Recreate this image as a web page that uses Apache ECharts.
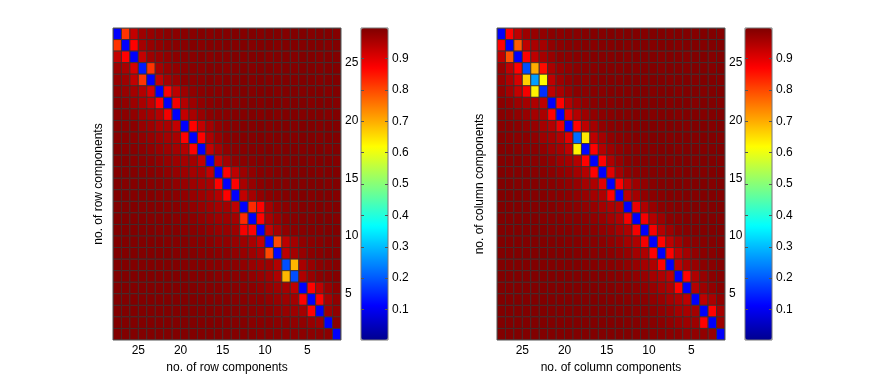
<!DOCTYPE html>
<html><head><meta charset="utf-8">
<script src="https://cdn.jsdelivr.net/npm/echarts@6/dist/echarts.min.js"></script>
<style>html,body{margin:0;padding:0;background:#fff}#c{width:872px;height:382px}</style>
</head><body><div id="c"></div>
<script>
const FONT = "'Liberation Sans', Arial, Helvetica, sans-serif";
const xTicks = [5, 10, 15, 20, 25];
const yTicks = [5, 10, 15, 20, 25];
const colorTicks = [0.1, 0.2, 0.3, 0.4, 0.5, 0.6, 0.7, 0.8, 0.9];
const componentRange = [1, 28];
const colorRange = [0.003, 0.997];
const leftXName = 'no. of row components';
const leftYName = 'no. of row components';
const rightXName = 'no. of column components';
const rightYName = 'no. of column components';

// rows from top (27) to bottom (1); columns from left (27) to right (1)
const leftMatrix = [
[0.11,0.82,0.93,0.966,0.972,0.978,0.984,0.984,0.988, 0.988,0.992,0.988,0.992,0.992,0.995,0.992,0.995,0.992, 0.995,0.995,0.992,0.995,0.995,0.992,0.995,0.995,0.992],
[0.82,0.11,0.87,0.96,0.972,0.978,0.984,0.988,0.988, 0.992,0.988,0.992,0.992,0.995,0.992,0.995,0.992,0.995, 0.995,0.992,0.995,0.995,0.992,0.995,0.995,0.992,0.995],
[0.93,0.87,0.11,0.93,0.966,0.972,0.978,0.984,0.988, 0.988,0.992,0.988,0.992,0.992,0.995,0.992,0.995,0.995, 0.992,0.995,0.995,0.992,0.995,0.995,0.992,0.995,0.995],
[0.966,0.955,0.91,0.14,0.82,0.96,0.972,0.978,0.984, 0.988,0.988,0.992,0.992,0.988,0.992,0.995,0.992,0.995, 0.995,0.992,0.995,0.992,0.995,0.995,0.992,0.995,0.995],
[0.972,0.966,0.93,0.82,0.11,0.93,0.96,0.972,0.984, 0.984,0.988,0.992,0.988,0.992,0.992,0.995,0.992,0.995, 0.992,0.995,0.995,0.992,0.995,0.995,0.992,0.995,0.995],
[0.978,0.972,0.96,0.945,0.91,0.11,0.87,0.935,0.966, 0.978,0.984,0.988,0.988,0.992,0.992,0.995,0.992,0.995, 0.995,0.992,0.995,0.995,0.992,0.995,0.995,0.992,0.995],
[0.984,0.978,0.966,0.955,0.935,0.87,0.11,0.88,0.945, 0.966,0.978,0.984,0.988,0.992,0.988,0.992,0.995,0.992, 0.995,0.995,0.992,0.995,0.995,0.992,0.995,0.995,0.992],
[0.984,0.984,0.978,0.966,0.96,0.945,0.88,0.11,0.93, 0.955,0.972,0.984,0.988,0.988,0.992,0.992,0.995,0.992, 0.995,0.992,0.995,0.995,0.992,0.995,0.995,0.992,0.995],
[0.988,0.984,0.984,0.972,0.966,0.955,0.955,0.93,0.11, 0.87,0.93,0.96,0.978,0.984,0.988,0.992,0.992,0.995, 0.992,0.995,0.995,0.992,0.995,0.995,0.992,0.995,0.995],
[0.988,0.988,0.984,0.978,0.972,0.966,0.96,0.955,0.87, 0.11,0.87,0.95,0.972,0.984,0.988,0.992,0.992,0.995, 0.992,0.995,0.995,0.992,0.995,0.995,0.992,0.995,0.995],
[0.992,0.988,0.988,0.984,0.978,0.972,0.966,0.96,0.945, 0.87,0.11,0.93,0.96,0.978,0.984,0.988,0.992,0.992, 0.995,0.992,0.995,0.995,0.992,0.995,0.995,0.992,0.995],
[0.992,0.992,0.988,0.988,0.984,0.978,0.972,0.966,0.96, 0.96,0.93,0.11,0.93,0.96,0.978,0.984,0.988,0.992, 0.992,0.995,0.992,0.995,0.995,0.992,0.995,0.995,0.992],
[0.992,0.992,0.992,0.988,0.988,0.984,0.978,0.972,0.966, 0.96,0.96,0.93,0.11,0.87,0.935,0.966,0.978,0.988, 0.988,0.992,0.995,0.992,0.995,0.995,0.992,0.995,0.995],
[0.995,0.992,0.992,0.992,0.988,0.988,0.984,0.978,0.972, 0.966,0.96,0.955,0.87,0.11,0.87,0.955,0.972,0.984, 0.988,0.992,0.992,0.995,0.992,0.995,0.995,0.992,0.995],
[0.995,0.995,0.992,0.992,0.992,0.988,0.988,0.984,0.978, 0.972,0.966,0.96,0.945,0.87,0.11,0.93,0.96,0.978, 0.984,0.988,0.992,0.992,0.995,0.992,0.995,0.995,0.992],
[0.995,0.995,0.995,0.992,0.992,0.992,0.988,0.988,0.984, 0.978,0.972,0.966,0.96,0.96,0.935,0.11,0.83,0.87, 0.96,0.978,0.984,0.988,0.992,0.992,0.995,0.992,0.995],
[0.995,0.995,0.995,0.995,0.992,0.992,0.992,0.988,0.988, 0.984,0.978,0.972,0.966,0.966,0.96,0.83,0.11,0.87, 0.955,0.972,0.984,0.988,0.992,0.992,0.995,0.995,0.992],
[0.995,0.995,0.995,0.995,0.995,0.992,0.992,0.992,0.988, 0.988,0.984,0.978,0.972,0.972,0.966,0.88,0.87,0.11, 0.93,0.96,0.978,0.984,0.988,0.992,0.992,0.995,0.995],
[0.995,0.995,0.995,0.995,0.995,0.995,0.992,0.992,0.992, 0.988,0.988,0.984,0.978,0.978,0.972,0.966,0.955,0.93, 0.12,0.80,0.935,0.96,0.978,0.984,0.988,0.992,0.992],
[0.995,0.995,0.995,0.995,0.995,0.995,0.995,0.992,0.992, 0.992,0.988,0.988,0.984,0.984,0.978,0.972,0.966,0.955, 0.80,0.12,0.935,0.96,0.972,0.984,0.988,0.992,0.992],
[0.995,0.995,0.995,0.995,0.995,0.995,0.995,0.995,0.992, 0.992,0.992,0.988,0.988,0.984,0.984,0.978,0.972,0.966, 0.966,0.945,0.19,0.69,0.955,0.972,0.984,0.988,0.992],
[0.995,0.995,0.995,0.995,0.995,0.995,0.995,0.995,0.995, 0.992,0.992,0.992,0.988,0.988,0.984,0.984,0.978,0.972, 0.966,0.95,0.69,0.19,0.95,0.972,0.984,0.988,0.992],
[0.995,0.995,0.995,0.995,0.995,0.995,0.995,0.995,0.995, 0.995,0.992,0.992,0.992,0.988,0.988,0.984,0.984,0.978, 0.972,0.966,0.96,0.935,0.11,0.87,0.935,0.972,0.984],
[0.995,0.995,0.995,0.995,0.995,0.995,0.995,0.995,0.995, 0.995,0.995,0.992,0.992,0.992,0.988,0.988,0.984,0.984, 0.978,0.972,0.966,0.96,0.87,0.11,0.87,0.96,0.978],
[0.995,0.995,0.995,0.995,0.995,0.995,0.995,0.995,0.995, 0.995,0.995,0.995,0.992,0.992,0.992,0.988,0.988,0.984, 0.984,0.978,0.972,0.966,0.96,0.87,0.11,0.966,0.978],
[0.995,0.995,0.995,0.995,0.995,0.995,0.995,0.995,0.995, 0.995,0.995,0.995,0.995,0.992,0.992,0.992,0.988,0.988, 0.988,0.984,0.984,0.978,0.978,0.972,0.966,0.11,0.984],
[0.995,0.995,0.995,0.995,0.995,0.995,0.995,0.995,0.995, 0.995,0.995,0.995,0.995,0.995,0.992,0.992,0.992,0.988, 0.988,0.988,0.984,0.984,0.984,0.984,0.984,0.984,0.11]
];

const rightMatrix = [
[0.11,0.87,0.935,0.966,0.972,0.978,0.984,0.984,0.988, 0.988,0.992,0.992,0.992,0.995,0.992,0.995,0.995,0.992, 0.995,0.995,0.992,0.995,0.995,0.992,0.995,0.995,0.992],
[0.87,0.11,0.78,0.935,0.955,0.96,0.978,0.984,0.988, 0.988,0.992,0.988,0.992,0.992,0.995,0.992,0.995,0.995, 0.992,0.995,0.995,0.992,0.995,0.995,0.992,0.995,0.995],
[0.935,0.79,0.11,0.87,0.935,0.96,0.972,0.984,0.984, 0.988,0.988,0.992,0.992,0.992,0.995,0.992,0.995,0.995, 0.995,0.992,0.995,0.995,0.992,0.995,0.995,0.992,0.995],
[0.972,0.935,0.87,0.19,0.70,0.86,0.955,0.972,0.978, 0.984,0.988,0.988,0.992,0.992,0.992,0.995,0.992,0.995, 0.995,0.992,0.995,0.995,0.992,0.995,0.995,0.992,0.995],
[0.972,0.95,0.91,0.665,0.27,0.62,0.935,0.966,0.978, 0.984,0.984,0.988,0.992,0.992,0.992,0.995,0.995,0.992, 0.995,0.995,0.992,0.995,0.995,0.992,0.995,0.995,0.992],
[0.978,0.96,0.93,0.88,0.63,0.16,0.935,0.955,0.972, 0.984,0.984,0.988,0.988,0.992,0.992,0.992,0.995,0.995, 0.992,0.995,0.995,0.992,0.995,0.995,0.992,0.995,0.995],
[0.984,0.978,0.966,0.96,0.95,0.935,0.11,0.87,0.945, 0.966,0.978,0.984,0.988,0.988,0.992,0.992,0.995,0.992, 0.995,0.995,0.992,0.995,0.995,0.992,0.995,0.995,0.992],
[0.988,0.984,0.978,0.972,0.96,0.955,0.87,0.11,0.90, 0.945,0.966,0.978,0.984,0.988,0.992,0.992,0.995,0.995, 0.992,0.995,0.995,0.992,0.995,0.995,0.992,0.995,0.995],
[0.988,0.988,0.984,0.978,0.972,0.96,0.945,0.89,0.11, 0.87,0.935,0.96,0.978,0.984,0.988,0.992,0.992,0.995, 0.995,0.992,0.995,0.995,0.992,0.995,0.995,0.992,0.995],
[0.992,0.988,0.984,0.984,0.978,0.966,0.96,0.945,0.90, 0.22,0.64,0.935,0.96,0.978,0.984,0.988,0.992,0.992, 0.995,0.995,0.992,0.995,0.995,0.992,0.995,0.995,0.992],
[0.992,0.992,0.988,0.984,0.984,0.978,0.966,0.96,0.935, 0.63,0.12,0.87,0.945,0.966,0.978,0.984,0.988,0.992, 0.992,0.995,0.995,0.992,0.995,0.995,0.992,0.995,0.995],
[0.992,0.992,0.992,0.988,0.984,0.984,0.978,0.966,0.96, 0.945,0.87,0.11,0.87,0.95,0.972,0.984,0.988,0.992, 0.992,0.995,0.992,0.995,0.995,0.992,0.995,0.995,0.992],
[0.995,0.992,0.992,0.992,0.988,0.988,0.984,0.978,0.972, 0.96,0.945,0.87,0.11,0.90,0.96,0.978,0.984,0.988, 0.992,0.992,0.995,0.992,0.995,0.995,0.992,0.995,0.995],
[0.995,0.995,0.992,0.992,0.992,0.988,0.988,0.984,0.978, 0.972,0.96,0.95,0.90,0.11,0.87,0.935,0.966,0.978, 0.988,0.992,0.992,0.995,0.992,0.995,0.995,0.992,0.995],
[0.995,0.995,0.995,0.992,0.992,0.992,0.988,0.988,0.984, 0.978,0.972,0.96,0.95,0.87,0.11,0.935,0.96,0.978, 0.984,0.988,0.992,0.992,0.995,0.992,0.995,0.995,0.992],
[0.995,0.995,0.995,0.995,0.992,0.992,0.992,0.988,0.988, 0.984,0.978,0.972,0.96,0.95,0.945,0.11,0.89,0.95, 0.972,0.984,0.988,0.992,0.992,0.995,0.992,0.995,0.995],
[0.995,0.995,0.995,0.995,0.995,0.992,0.992,0.992,0.988, 0.988,0.984,0.978,0.972,0.96,0.95,0.88,0.11,0.88, 0.945,0.966,0.984,0.988,0.992,0.992,0.995,0.995,0.992],
[0.995,0.995,0.995,0.995,0.995,0.995,0.992,0.992,0.992, 0.988,0.988,0.984,0.978,0.972,0.96,0.95,0.88,0.11, 0.88,0.945,0.966,0.984,0.988,0.992,0.992,0.995,0.995],
[0.995,0.995,0.995,0.995,0.995,0.995,0.995,0.995,0.992, 0.992,0.988,0.988,0.984,0.978,0.972,0.96,0.95,0.88, 0.11,0.87,0.935,0.96,0.978,0.984,0.988,0.992,0.992],
[0.995,0.995,0.995,0.995,0.995,0.995,0.995,0.995,0.995, 0.992,0.992,0.988,0.988,0.984,0.978,0.972,0.96,0.95, 0.87,0.11,0.87,0.935,0.96,0.978,0.984,0.988,0.992],
[0.995,0.995,0.995,0.995,0.995,0.995,0.995,0.995,0.995, 0.995,0.992,0.992,0.988,0.988,0.984,0.978,0.972,0.96, 0.95,0.87,0.11,0.935,0.96,0.972,0.984,0.988,0.992],
[0.995,0.995,0.995,0.995,0.995,0.995,0.995,0.995,0.995, 0.995,0.995,0.992,0.992,0.988,0.988,0.984,0.978,0.972, 0.96,0.95,0.935,0.11,0.87,0.95,0.972,0.984,0.988],
[0.995,0.995,0.995,0.995,0.995,0.995,0.995,0.995,0.995, 0.995,0.995,0.995,0.992,0.992,0.988,0.988,0.984,0.978, 0.972,0.96,0.95,0.87,0.11,0.945,0.966,0.978,0.988],
[0.995,0.995,0.995,0.995,0.995,0.995,0.995,0.995,0.995, 0.995,0.995,0.995,0.995,0.992,0.992,0.988,0.988,0.984, 0.978,0.972,0.96,0.95,0.935,0.11,0.935,0.955,0.978],
[0.995,0.995,0.995,0.995,0.995,0.995,0.995,0.995,0.995, 0.995,0.995,0.995,0.995,0.995,0.992,0.992,0.988,0.988, 0.984,0.978,0.972,0.96,0.955,0.96,0.11,0.87,0.96],
[0.995,0.995,0.995,0.995,0.995,0.995,0.995,0.995,0.995, 0.995,0.995,0.995,0.995,0.995,0.995,0.992,0.992,0.988, 0.988,0.984,0.978,0.972,0.966,0.966,0.87,0.11,0.966],
[0.995,0.995,0.995,0.995,0.995,0.995,0.995,0.995,0.995, 0.995,0.995,0.995,0.995,0.995,0.995,0.995,0.992,0.992, 0.988,0.988,0.984,0.984,0.978,0.978,0.978,0.972,0.11]
];

// MATLAB-style jet(64) colormap
function jetColors() {
  const m = 64, n = 16, u = [];
  for (let i = 1; i <= n; i++) u.push(i / n);
  for (let i = 0; i < n - 1; i++) u.push(1);
  for (let i = n; i >= 1; i--) u.push(i / n);
  const R = new Array(m).fill(0), G = new Array(m).fill(0), B = new Array(m).fill(0);
  for (let k = 0; k < u.length; k++) {
    const gi = 8 + k + 1, ri = gi + n, bi = gi - n;
    if (gi >= 1 && gi <= m) G[gi - 1] = u[k];
    if (ri >= 1 && ri <= m) R[ri - 1] = u[k];
    if (bi >= 1 && bi <= m) B[bi - 1] = u[k];
  }
  const h = v => Math.round(v * 255).toString(16).padStart(2, '0');
  return R.map((r, i) => '#' + h(r) + h(G[i]) + h(B[i]));
}
const JET = jetColors();

function toCells(mat) {
  const out = [], n = mat.length;
  for (let r = 0; r < n; r++)
    for (let c = 0; c < mat[r].length; c++)
      out.push([n - c, n - r, mat[r][c]]);
  return out;
}

function renderCell(params, api) {
  const x = api.value(0), y = api.value(1);
  const a = api.coord([x, y + 1]);
  const b = api.coord([x + 1, y]);
  return {
    type: 'rect',
    shape: { x: Math.min(a[0], b[0]), y: Math.min(a[1], b[1]), width: Math.abs(b[0] - a[0]), height: Math.abs(b[1] - a[1]) },
    style: { fill: api.visual('color'), stroke: 'rgba(60,45,45,0.85)', lineWidth: 1 }
  };
}

const textStyle = { fontFamily: FONT, fontSize: 12, color: '#000' };

function heatX(gridIndex, name) {
  return {
    type: 'value', gridIndex, min: componentRange[0], max: componentRange[1], inverse: true,
    axisLine: { show: false }, axisTick: { show: false }, splitLine: { show: false },
    axisLabel: { ...textStyle, margin: 5, customValues: xTicks },
    name, nameLocation: 'middle', nameGap: 20, nameTextStyle: textStyle
  };
}
function heatYLabels(gridIndex) {
  return {
    type: 'value', gridIndex, position: 'right', min: componentRange[0], max: componentRange[1],
    axisLine: { show: false }, axisTick: { show: false }, splitLine: { show: false },
    axisLabel: { ...textStyle, margin: 4, padding: [3, 0, 0, 0], customValues: yTicks }
  };
}
function heatYName(gridIndex, name, gap) {
  return {
    type: 'value', gridIndex, position: 'left', min: componentRange[0], max: componentRange[1],
    axisLine: { show: false }, axisTick: { show: false }, splitLine: { show: false }, axisLabel: { show: false },
    name, nameLocation: 'middle', nameGap: gap, nameRotate: 90, nameTextStyle: textStyle
  };
}
function cbX(gridIndex) {
  return { type: 'value', gridIndex, min: 0, max: 1, show: false };
}
function cbYLabels(gridIndex) {
  return {
    type: 'value', gridIndex, position: 'right', min: colorRange[0], max: colorRange[1], z: 20,
    axisLine: { show: false }, splitLine: { show: false },
    axisTick: { show: true, inside: false, length: 3, lineStyle: { color: '#555' }, customValues: colorTicks },
    axisLabel: { ...textStyle, margin: 4, customValues: colorTicks }
  };
}
function cbYRightTicks(gridIndex) {
  return {
    type: 'value', gridIndex, position: 'left', offset: -27, min: colorRange[0], max: colorRange[1], z: 20,
    axisLine: { show: false }, splitLine: { show: false },
    axisTick: { show: true, inside: false, length: 3, lineStyle: { color: '#555' }, customValues: colorTicks },
    axisLabel: { show: false, customValues: colorTicks }
  };
}

const option = {
  animation: false,
  backgroundColor: '#fff',
  grid: [
    { left: 113, top: 28, width: 228, height: 312, show: true, borderColor: '#555', borderWidth: 1, backgroundColor: 'transparent', z: 5 },
    { left: 497, top: 28, width: 228, height: 312, show: true, borderColor: '#555', borderWidth: 1, backgroundColor: 'transparent', z: 5 },
    { left: 361, top: 28, width: 27, height: 312, show: true, borderColor: '#777', borderWidth: 1, backgroundColor: 'transparent', z: 20 },
    { left: 745, top: 28, width: 27, height: 312, show: true, borderColor: '#777', borderWidth: 1, backgroundColor: 'transparent', z: 20 }
  ],
  xAxis: [heatX(0, leftXName), heatX(1, rightXName), cbX(2), cbX(3)],
  yAxis: [
    heatYLabels(0), heatYName(0, leftYName, 8),
    heatYLabels(1), heatYName(1, rightYName, 11),
    cbYLabels(2), cbYRightTicks(2),
    cbYLabels(3), cbYRightTicks(3)
  ],
  visualMap: [
    { type: 'continuous', seriesIndex: 0, dimension: 2, min: colorRange[0], max: colorRange[1], z: 2,
      left: 361, top: 28, itemWidth: 27, itemHeight: 312, padding: 0, calculable: false, hoverLink: false,
      inRange: { color: JET }, text: null, orient: 'vertical' },
    { type: 'continuous', seriesIndex: 1, dimension: 2, min: colorRange[0], max: colorRange[1], z: 2,
      left: 745, top: 28, itemWidth: 27, itemHeight: 312, padding: 0, calculable: false, hoverLink: false,
      inRange: { color: JET }, text: null, orient: 'vertical' }
  ],
  series: [
    { type: 'custom', xAxisIndex: 0, yAxisIndex: 0, renderItem: renderCell, encode: { x: 0, y: 1 }, data: toCells(leftMatrix), clip: true },
    { type: 'custom', xAxisIndex: 1, yAxisIndex: 2, renderItem: renderCell, encode: { x: 0, y: 1 }, data: toCells(rightMatrix), clip: true },
    { type: 'custom', xAxisIndex: 2, yAxisIndex: 4, renderItem: () => null, data: [] },
    { type: 'custom', xAxisIndex: 3, yAxisIndex: 6, renderItem: () => null, data: [] }
  ]
};
const chart = echarts.init(document.getElementById('c'), null, { renderer: 'canvas' });
chart.setOption(option);
</script></body></html>
